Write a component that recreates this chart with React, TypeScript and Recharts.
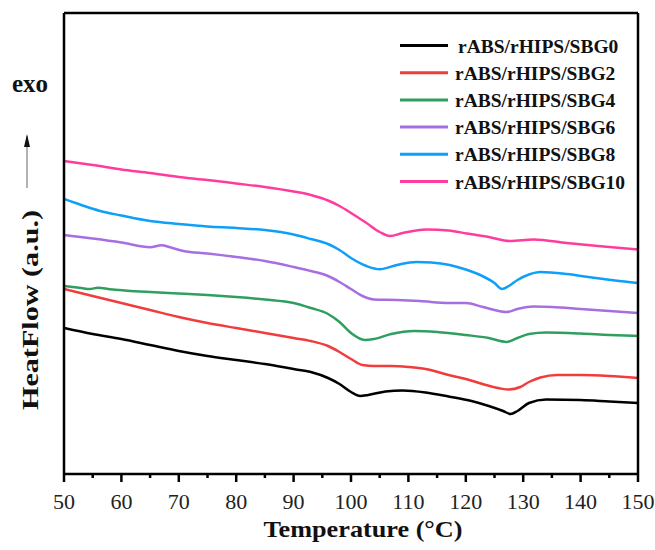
import { LineChart, Line, XAxis, YAxis } from "recharts";

// temperature (°C) vs heat flow (a.u.)
const sbg0 = [
  { t: 50, v: 15.1 }, { t: 55, v: 14.5 }, { t: 60, v: 14.0 }, { t: 65, v: 13.4 },
  { t: 70, v: 12.8 }, { t: 75, v: 12.3 }, { t: 80, v: 11.9 }, { t: 85, v: 11.5 },
  { t: 90, v: 11.0 }, { t: 93, v: 10.7 }, { t: 96, v: 10.1 }, { t: 98, v: 9.5 },
  { t: 100, v: 8.7 }, { t: 101.6, v: 8.3 }, { t: 103, v: 8.4 }, { t: 106, v: 8.75 },
  { t: 109, v: 8.85 }, { t: 113, v: 8.65 }, { t: 117, v: 8.25 }, { t: 121, v: 7.8 },
  { t: 124, v: 7.3 }, { t: 126.5, v: 6.8 }, { t: 127.8, v: 6.5 }, { t: 129, v: 6.8 },
  { t: 131, v: 7.6 }, { t: 134, v: 7.95 }, { t: 140, v: 7.9 }, { t: 145, v: 7.75 },
  { t: 150, v: 7.6 },
];

const sbg2 = [
  { t: 50, v: 19.0 }, { t: 55, v: 18.3 }, { t: 60, v: 17.6 }, { t: 65, v: 16.9 },
  { t: 70, v: 16.2 }, { t: 75, v: 15.6 }, { t: 80, v: 15.1 }, { t: 85, v: 14.6 },
  { t: 90, v: 14.1 }, { t: 93, v: 13.8 }, { t: 96, v: 13.3 }, { t: 98, v: 12.7 },
  { t: 100, v: 12.0 }, { t: 102, v: 11.4 }, { t: 104, v: 11.3 }, { t: 107, v: 11.3 },
  { t: 110, v: 11.2 }, { t: 113, v: 11.0 }, { t: 117, v: 10.4 }, { t: 120, v: 10.0 },
  { t: 123.5, v: 9.4 }, { t: 126, v: 9.05 }, { t: 127.5, v: 8.95 }, { t: 129.5, v: 9.2 },
  { t: 131, v: 9.7 }, { t: 133, v: 10.15 }, { t: 136, v: 10.4 }, { t: 140, v: 10.4 },
  { t: 145, v: 10.3 }, { t: 150, v: 10.1 },
];

const sbg4 = [
  { t: 50, v: 19.3 }, { t: 53, v: 19.1 }, { t: 54.5, v: 19.0 }, { t: 55.9, v: 19.13 },
  { t: 58, v: 18.97 }, { t: 65, v: 18.7 }, { t: 70, v: 18.55 }, { t: 75, v: 18.4 },
  { t: 80, v: 18.2 }, { t: 85, v: 17.95 }, { t: 90, v: 17.6 }, { t: 93, v: 17.1 },
  { t: 96, v: 16.5 }, { t: 98, v: 15.7 }, { t: 100, v: 14.6 }, { t: 102.4, v: 13.9 },
  { t: 104, v: 14.0 }, { t: 107, v: 14.5 }, { t: 111, v: 14.8 }, { t: 115, v: 14.7 },
  { t: 120, v: 14.4 }, { t: 124, v: 14.1 }, { t: 127.1, v: 13.7 }, { t: 129, v: 14.1 },
  { t: 131, v: 14.5 }, { t: 134, v: 14.65 }, { t: 140, v: 14.55 }, { t: 145, v: 14.4 },
  { t: 150, v: 14.3 },
];

const sbg6 = [
  { t: 50, v: 24.4 }, { t: 55, v: 24.05 }, { t: 60, v: 23.65 }, { t: 65, v: 23.17 },
  { t: 67, v: 23.37 }, { t: 68.5, v: 23.17 }, { t: 70.8, v: 22.8 }, { t: 75, v: 22.55 },
  { t: 80, v: 22.2 }, { t: 85, v: 21.8 }, { t: 90, v: 21.2 }, { t: 93, v: 20.8 },
  { t: 96, v: 20.3 }, { t: 98, v: 19.7 }, { t: 100, v: 19.0 }, { t: 102, v: 18.3 },
  { t: 104, v: 17.95 }, { t: 108, v: 17.9 }, { t: 112, v: 17.8 }, { t: 117, v: 17.6 },
  { t: 120, v: 17.6 }, { t: 123, v: 17.2 }, { t: 127.1, v: 16.7 }, { t: 129, v: 17.0 },
  { t: 131.8, v: 17.25 }, { t: 135, v: 17.2 }, { t: 140, v: 17.0 }, { t: 145, v: 16.8 },
  { t: 150, v: 16.6 },
];

const sbg8 = [
  { t: 50, v: 28.0 }, { t: 53, v: 27.4 }, { t: 56.3, v: 26.8 }, { t: 60, v: 26.35 },
  { t: 65, v: 25.8 }, { t: 70, v: 25.5 }, { t: 75, v: 25.25 }, { t: 80, v: 25.1 },
  { t: 85, v: 24.9 }, { t: 90, v: 24.45 }, { t: 93, v: 24.0 }, { t: 96, v: 23.5 },
  { t: 98, v: 22.9 }, { t: 100, v: 22.1 }, { t: 102.7, v: 21.3 }, { t: 105, v: 20.97 },
  { t: 108, v: 21.4 }, { t: 111.4, v: 21.7 }, { t: 114, v: 21.65 }, { t: 117.2, v: 21.4 },
  { t: 120, v: 20.95 }, { t: 122.5, v: 20.4 }, { t: 125, v: 19.6 }, { t: 126.3, v: 19.0 },
  { t: 127.5, v: 19.3 }, { t: 129, v: 19.9 }, { t: 131, v: 20.45 }, { t: 133, v: 20.7 },
  { t: 137.6, v: 20.5 }, { t: 142, v: 20.15 }, { t: 146, v: 19.85 }, { t: 150, v: 19.6 },
];

const sbg10 = [
  { t: 50, v: 31.8 }, { t: 55, v: 31.4 }, { t: 60, v: 30.95 }, { t: 65, v: 30.6 },
  { t: 70, v: 30.2 }, { t: 75, v: 29.9 }, { t: 80, v: 29.55 }, { t: 85, v: 29.2 },
  { t: 90, v: 28.75 }, { t: 93, v: 28.4 }, { t: 96, v: 27.85 }, { t: 98, v: 27.3 },
  { t: 100, v: 26.6 }, { t: 102.7, v: 25.6 }, { t: 105, v: 24.7 }, { t: 106.8, v: 24.3 },
  { t: 109, v: 24.6 }, { t: 113.2, v: 24.95 }, { t: 117, v: 24.85 }, { t: 120.2, v: 24.55 },
  { t: 124, v: 24.2 }, { t: 127.7, v: 23.8 }, { t: 131.8, v: 23.95 }, { t: 137.6, v: 23.6 },
  { t: 143, v: 23.3 }, { t: 150, v: 22.95 },
];

const xTicks = [50, 55, 60, 65, 70, 75, 80, 85, 90, 95, 100, 105, 110, 115, 120, 125, 130, 135, 140, 145, 150];

const series = [
  { name: "rABS/rHIPS/SBG0", color: "#000000", data: sbg0 },
  { name: "rABS/rHIPS/SBG2", color: "#F03C3C", data: sbg2 },
  { name: "rABS/rHIPS/SBG4", color: "#2F9E5E", data: sbg4 },
  { name: "rABS/rHIPS/SBG6", color: "#A66EE0", data: sbg6 },
  { name: "rABS/rHIPS/SBG8", color: "#0EA0F8", data: sbg8 },
  { name: "rABS/rHIPS/SBG10", color: "#FF3C9E", data: sbg10 },
];

const serif = "'Liberation Serif', 'Times New Roman', serif";
const frame = { stroke: "#000", strokeWidth: 2.5 };

function XTick(props: any) {
  const { x, y, payload } = props;
  const major = payload.value % 10 === 0;
  return (
    <g>
      <line x1={x} x2={x} y1={y} y2={y + (major ? 8 : 4)} stroke="#000" strokeWidth={2.5} />
      {major && (
        <text x={x} y={y + 35} textAnchor="middle" fontFamily={serif} fontSize={22} fill="#222">
          {payload.value}
        </text>
      )}
    </g>
  );
}

export default function App() {
  return (
    <div style={{ width: 655, height: 550, position: "relative", background: "#fff" }}>
      <style>{"html,body{margin:0;padding:0;overflow:hidden}"}</style>
      <LineChart width={655} height={550} margin={{ top: 12, right: 16, left: 63, bottom: 26 }}>
        <XAxis
          dataKey="t"
          type="number"
          domain={[50, 150]}
          ticks={xTicks}
          interval={0}
          height={50}
          tickSize={0}
          tickMargin={0}
          tickLine={false}
          tick={<XTick />}
          axisLine={frame}
          allowDataOverflow
        />
        <XAxis
          xAxisId="top"
          orientation="top"
          type="number"
          domain={[50, 150]}
          height={1}
          tick={false}
          tickLine={false}
          axisLine={frame}
        />
        <YAxis
          type="number"
          domain={[0.5, 46.6]}
          width={1}
          tick={false}
          tickLine={false}
          axisLine={frame}
          allowDataOverflow
        />
        <YAxis
          yAxisId="right"
          orientation="right"
          type="number"
          domain={[0, 1]}
          width={1}
          tick={false}
          tickLine={false}
          axisLine={frame}
        />
        {series.map((s) => (
          <Line
            key={s.name}
            data={s.data}
            dataKey="v"
            name={s.name}
            type="monotone"
            stroke={s.color}
            strokeWidth={2.5}
            dot={false}
            activeDot={false}
            isAnimationActive={false}
          />
        ))}
      </LineChart>
      <svg
        width={655}
        height={550}
        style={{ position: "absolute", left: 0, top: 0, pointerEvents: "none" }}
      >
        {series.map((s, i) => {
          const y = 45.5 + i * 27.2;
          return (
            <g key={s.name}>
              <line x1={400} x2={448} y1={y} y2={y} stroke={s.color} strokeWidth={3} />
              <text x={i === 0 ? 458 : 455} y={y + 7} fontFamily={serif} fontWeight="bold" fontSize={19.5} fill="#111">
                {s.name}
              </text>
            </g>
          );
        })}
        <text x={30} y={92} textAnchor="middle" fontFamily={serif} fontWeight="bold" fontSize={25} fill="#111">
          exo
        </text>
        <line x1={27} x2={27} y1={188} y2={136} stroke="#666" strokeWidth={1} />
        <path d="M24,147 L27,134 L30,147 Z" fill="#111" />
        <text
          transform="translate(38,310) rotate(-90)"
          textAnchor="middle"
          fontFamily={serif}
          fontWeight="bold"
          fontSize={23}
          fill="#111"
          textLength={200}
          lengthAdjust="spacingAndGlyphs"
        >
          HeatFlow (a.u.)
        </text>
        <text
          x={363}
          y={537}
          textAnchor="middle"
          fontFamily={serif}
          fontWeight="bold"
          fontSize={23}
          fill="#111"
          textLength={199}
          lengthAdjust="spacingAndGlyphs"
        >
          Temperature (°C)
        </text>
      </svg>
    </div>
  );
}
